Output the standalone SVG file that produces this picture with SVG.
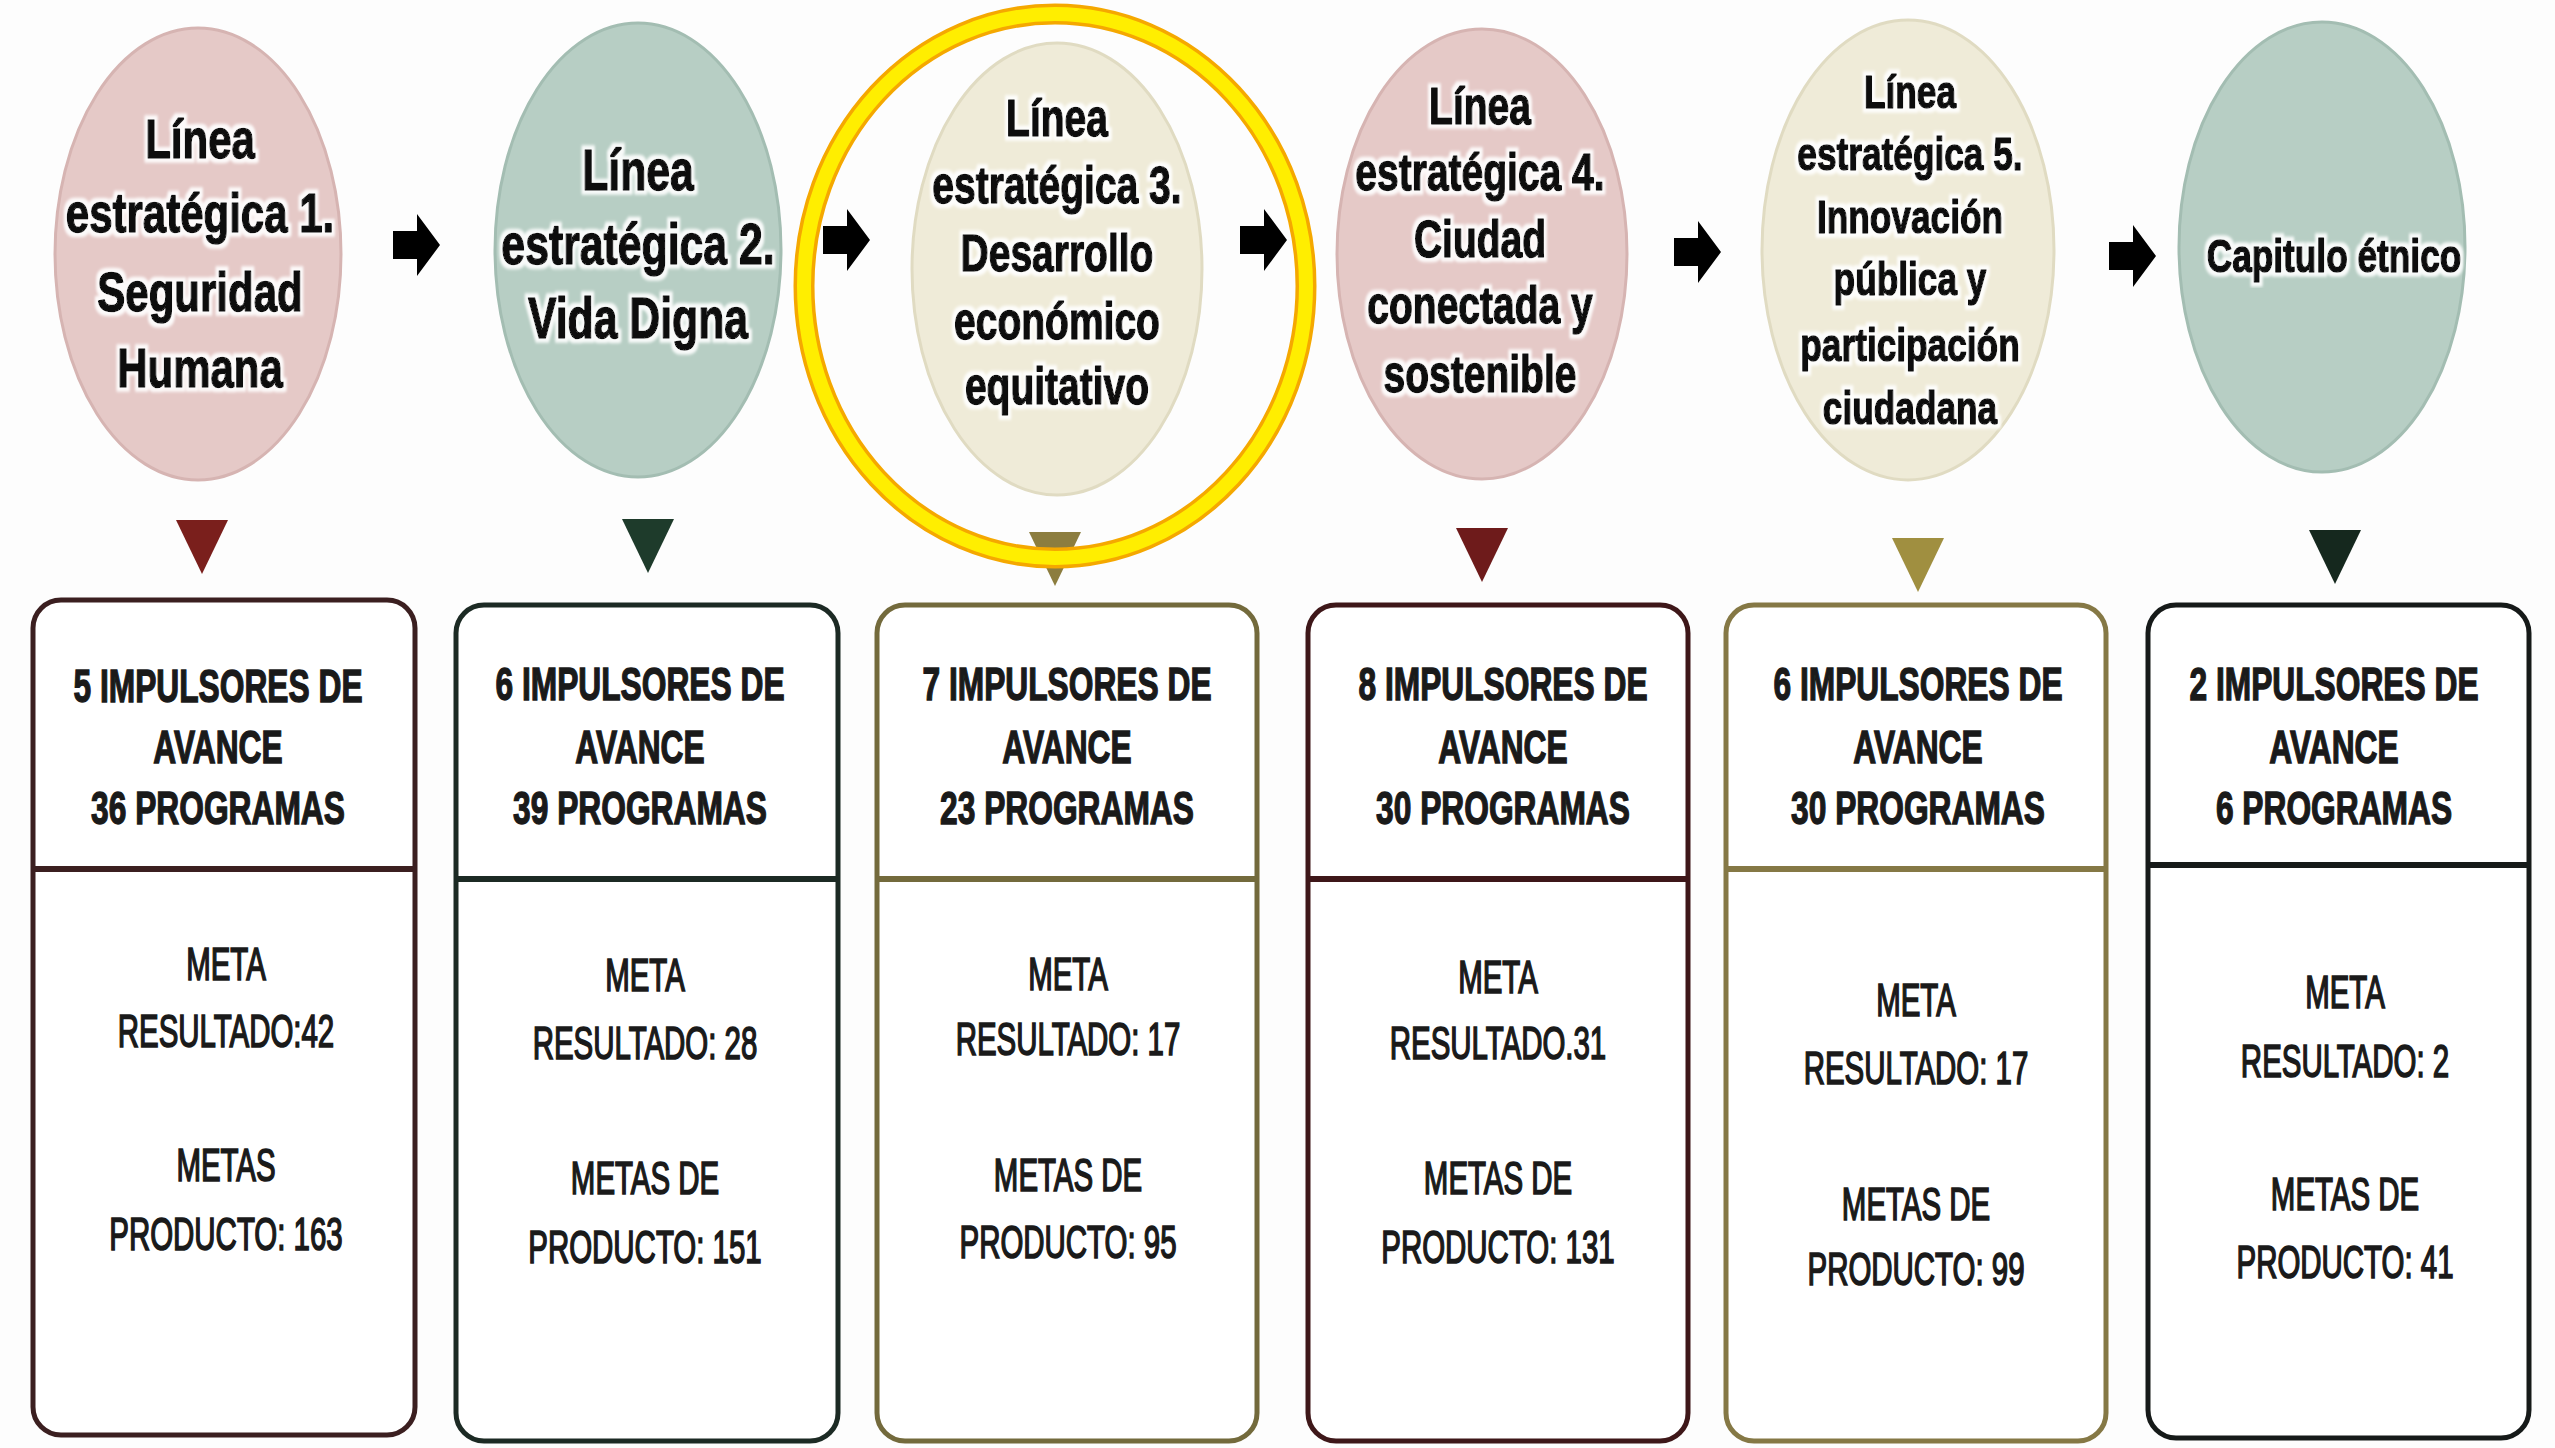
<svg xmlns="http://www.w3.org/2000/svg" width="2555" height="1448" viewBox="0 0 2555 1448">
<defs>
<style>
.ct{font-family:"Liberation Sans",Arial,sans-serif;font-weight:bold;fill:#111;text-anchor:middle;stroke:#111;stroke-width:1.6;stroke-linejoin:round}
.hd{font-family:"Liberation Sans",Arial,sans-serif;font-weight:bold;font-size:46px;fill:#1a1a1a;stroke:#1a1a1a;stroke-width:1.4;text-anchor:middle}
.bd{font-family:"Liberation Sans",Arial,sans-serif;font-size:46px;fill:#1a1a1a;stroke:#1a1a1a;stroke-width:1.7;text-anchor:middle}
.box{fill:#fff;stroke-width:5}
.div{stroke-width:6}
.pink{fill:#e5c9c7;stroke:#d6b4b2;stroke-width:3}
.green{fill:#b7cec4;stroke:#a3bdb2;stroke-width:3}
.cream{fill:#efebd8;stroke:#e0dbc2;stroke-width:3}
</style>
<filter id="halo" x="-10%" y="-10%" width="120%" height="120%">
<feMorphology in="SourceAlpha" operator="dilate" radius="4" result="d"/>
<feGaussianBlur in="d" stdDeviation="1.5" result="b"/>
<feFlood flood-color="#ffffff" flood-opacity="0.9"/>
<feComposite in2="b" operator="in" result="h"/>
<feMerge><feMergeNode in="h"/><feMergeNode in="SourceGraphic"/></feMerge>
</filter>
<path id="arr" d="M0,-14 H24 V-31 L47,0 L24,31 V14 H0 Z" fill="#000"/>
<path id="tri" d="M-26,0 H26 L0,54 Z"/>
</defs>
<rect width="2555" height="1448" fill="#fdfdfd"/>

<g id="connectors">
<use href="#arr" x="393" y="245"/>
<use href="#arr" x="823" y="240"/>
<use href="#arr" x="1240" y="240"/>
<use href="#arr" x="1674" y="252"/>
<use href="#arr" x="2109" y="256"/>
<use href="#tri" x="202" y="520" fill="#7a1f1c"/>
<use href="#tri" x="648" y="519" fill="#1e3b2b"/>
<use href="#tri" x="1055" y="532" fill="#8c7d3f"/>
<use href="#tri" x="1482" y="528" fill="#6e1b1b"/>
<use href="#tri" x="1918" y="538" fill="#a08f40"/>
<use href="#tri" x="2335" y="530" fill="#15281e"/>
</g>

<g id="linea1">
<ellipse class="pink" cx="198" cy="254" rx="143" ry="226"/>
<g transform="translate(200 0) scale(0.75 1)" class="ct" font-size="56" filter="url(#halo)">
<text x="0" y="158">Línea</text>
<text x="0" y="232">estratégica 1.</text>
<text x="0" y="311">Seguridad</text>
<text x="0" y="387">Humana</text>
</g>
</g>

<g id="linea2">
<ellipse class="green" cx="638" cy="250" rx="143" ry="227"/>
<g transform="translate(638 0) scale(0.75 1)" class="ct" font-size="57" filter="url(#halo)">
<text x="0" y="190">Línea</text>
<text x="0" y="264">estratégica 2.</text>
<text x="0" y="338">Vida Digna</text>
</g>
</g>

<g id="linea3">
<ellipse class="cream" cx="1057" cy="269" rx="145" ry="226"/>
<g transform="translate(1057 0) scale(0.75 1)" class="ct" font-size="52" filter="url(#halo)">
<text x="0" y="136">Línea</text>
<text x="0" y="203">estratégica 3.</text>
<text x="0" y="271">Desarrollo</text>
<text x="0" y="339">económico</text>
<text x="0" y="404">equitativo</text>
</g>
</g>

<g id="linea4">
<ellipse class="pink" cx="1482" cy="254" rx="145" ry="225"/>
<g transform="translate(1480 0) scale(0.75 1)" class="ct" font-size="52" filter="url(#halo)">
<text x="0" y="124">Línea</text>
<text x="0" y="190">estratégica 4.</text>
<text x="0" y="257">Ciudad</text>
<text x="0" y="323">conectada y</text>
<text x="0" y="392">sostenible</text>
</g>
</g>

<g id="linea5">
<ellipse class="cream" cx="1908" cy="250" rx="146" ry="230"/>
<g transform="translate(1910 0) scale(0.75 1)" class="ct" font-size="47" filter="url(#halo)">
<text x="0" y="108">Línea</text>
<text x="0" y="170">estratégica 5.</text>
<text x="0" y="233">Innovación</text>
<text x="0" y="295">pública y</text>
<text x="0" y="361">participación</text>
<text x="0" y="424">ciudadana</text>
</g>
</g>

<g id="capitulo">
<ellipse class="green" cx="2322" cy="247" rx="143" ry="225"/>
<g transform="translate(2334 0) scale(0.75 1)" class="ct" font-size="47" filter="url(#halo)">
<text x="0" y="272">Capitulo étnico</text>
</g>
</g>

<g id="box1">
<rect class="box" x="33" y="600" width="382" height="835" rx="28" stroke="#3b1f20"/>
<line class="div" x1="33" y1="869" x2="415" y2="869" stroke="#3b1f20"/>
<g transform="translate(218 0) scale(0.69 1)" class="hd">
<text x="0" y="702">5 IMPULSORES DE</text><text x="0" y="763">AVANCE</text><text x="0" y="824">36 PROGRAMAS</text>
</g>
<g transform="translate(226 0) scale(0.64 1)" class="bd">
<text x="0" y="980">META</text><text x="0" y="1047">RESULTADO:42</text><text x="0" y="1181">METAS</text><text x="0" y="1250">PRODUCTO: 163</text>
</g>
</g>

<g id="box2">
<rect class="box" x="456" y="605" width="382" height="836" rx="28" stroke="#1c2a24"/>
<line class="div" x1="456" y1="879" x2="838" y2="879" stroke="#1c2a24"/>
<g transform="translate(640 0) scale(0.69 1)" class="hd">
<text x="0" y="700">6 IMPULSORES DE</text><text x="0" y="763">AVANCE</text><text x="0" y="824">39 PROGRAMAS</text>
</g>
<g transform="translate(645 0) scale(0.64 1)" class="bd">
<text x="0" y="991">META</text><text x="0" y="1059">RESULTADO: 28</text><text x="0" y="1194">METAS DE</text><text x="0" y="1263">PRODUCTO: 151</text>
</g>
</g>

<g id="box3">
<rect class="box" x="877" y="605" width="380" height="836" rx="28" stroke="#736a3c"/>
<line class="div" x1="877" y1="879" x2="1257" y2="879" stroke="#736a3c"/>
<g transform="translate(1067 0) scale(0.69 1)" class="hd">
<text x="0" y="700">7 IMPULSORES DE</text><text x="0" y="763">AVANCE</text><text x="0" y="824">23 PROGRAMAS</text>
</g>
<g transform="translate(1068 0) scale(0.64 1)" class="bd">
<text x="0" y="990">META</text><text x="0" y="1055">RESULTADO: 17</text><text x="0" y="1191">METAS DE</text><text x="0" y="1258">PRODUCTO: 95</text>
</g>
</g>

<g id="box4">
<rect class="box" x="1308" y="605" width="380" height="836" rx="28" stroke="#3e1719"/>
<line class="div" x1="1308" y1="879" x2="1688" y2="879" stroke="#3e1719"/>
<g transform="translate(1503 0) scale(0.69 1)" class="hd">
<text x="0" y="700">8 IMPULSORES DE</text><text x="0" y="763">AVANCE</text><text x="0" y="824">30 PROGRAMAS</text>
</g>
<g transform="translate(1498 0) scale(0.64 1)" class="bd">
<text x="0" y="993">META</text><text x="0" y="1059">RESULTADO.31</text><text x="0" y="1194">METAS DE</text><text x="0" y="1263">PRODUCTO: 131</text>
</g>
</g>

<g id="box5">
<rect class="box" x="1726" y="605" width="380" height="836" rx="28" stroke="#857845"/>
<line class="div" x1="1726" y1="869" x2="2106" y2="869" stroke="#857845"/>
<g transform="translate(1918 0) scale(0.69 1)" class="hd">
<text x="0" y="700">6 IMPULSORES DE</text><text x="0" y="763">AVANCE</text><text x="0" y="824">30 PROGRAMAS</text>
</g>
<g transform="translate(1916 0) scale(0.64 1)" class="bd">
<text x="0" y="1016">META</text><text x="0" y="1084">RESULTADO: 17</text><text x="0" y="1220">METAS DE</text><text x="0" y="1285">PRODUCTO: 99</text>
</g>
</g>

<g id="box6">
<rect class="box" x="2148" y="605" width="381" height="833" rx="28" stroke="#161a19"/>
<line class="div" x1="2148" y1="865" x2="2529" y2="865" stroke="#161a19"/>
<g transform="translate(2334 0) scale(0.69 1)" class="hd">
<text x="0" y="700">2 IMPULSORES DE</text><text x="0" y="763">AVANCE</text><text x="0" y="824">6 PROGRAMAS</text>
</g>
<g transform="translate(2345 0) scale(0.64 1)" class="bd">
<text x="0" y="1008">META</text><text x="0" y="1077">RESULTADO: 2</text><text x="0" y="1210">METAS DE</text><text x="0" y="1278">PRODUCTO: 41</text>
</g>
</g>

<g id="highlight">
<ellipse cx="1055" cy="286" rx="251" ry="272" fill="none" stroke="#f5a800" stroke-width="21"/>
<ellipse cx="1055" cy="286" rx="251" ry="272" fill="none" stroke="#ffee00" stroke-width="14"/>
</g>
</svg>
